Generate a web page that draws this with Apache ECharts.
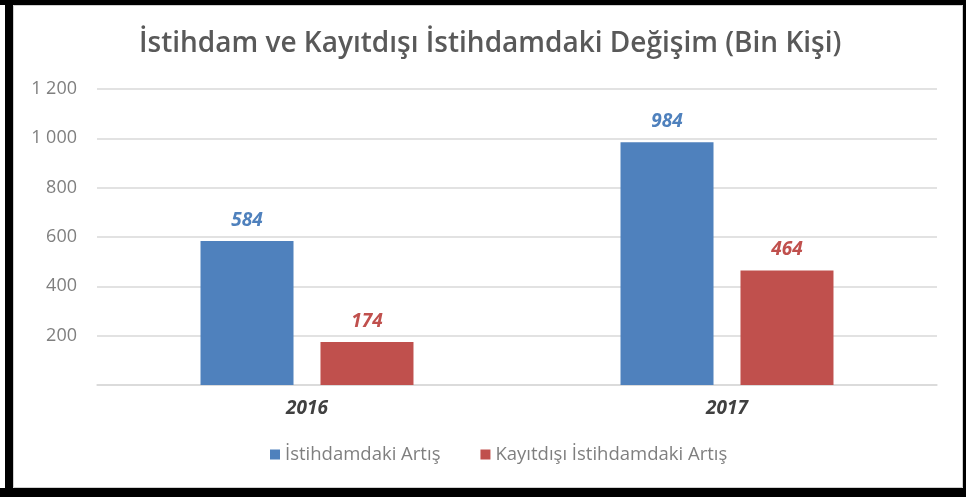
<!DOCTYPE html>
<html><head><meta charset="utf-8">
<script src="https://cdn.jsdelivr.net/npm/echarts@6/dist/echarts.min.js"></script>
<style>html,body{margin:0;padding:0;background:#fff}#c{width:966px;height:497px}</style>
</head><body><div id="c"></div>
<script>
const years = ['2016', '2017'];
const seriesNames = ['İstihdamdaki Artış', 'Kayıtdışı İstihdamdaki Artış'];
const istihdam = [584, 984];
const kayitdisi = [174, 464];
const yTicks = [0, 200, 400, 600, 800, 1000, 1200];

const chart = echarts.init(document.getElementById('c'));
const lbl = (color) => ({show: true, position: 'top', distance: 11, color: color, fontStyle: 'italic', fontWeight: 'bold', fontSize: 19, fontFamily: 'Open Sans'});
chart.setOption({
  animation: false,
  title: {text: 'İstihdam ve Kayıtdışı İstihdamdaki Değişim (Bin Kişi)', left: 134, top: 25,
    textStyle: {color: '#595959', fontSize: 28, fontWeight: 600, fontFamily: 'Open Sans'}},
  legend: {bottom: 28, left: 265, itemWidth: 10, itemHeight: 10, itemGap: 40, icon: 'rect',
    textStyle: {color: '#7f7f7f', fontSize: 18.5, fontFamily: 'Open Sans'}, data: seriesNames},
  grid: {left: 97, right: 29, top: 89, bottom: 112},
  xAxis: {type: 'category', data: years, axisTick: {show: false},
    axisLine: {lineStyle: {color: '#d9d9d9', width: 1.5}},
    axisLabel: {color: '#404040', fontStyle: 'italic', fontWeight: 'bold', fontSize: 19, margin: 14, fontFamily: 'Open Sans'}},
  yAxis: {type: 'value', min: yTicks[0], max: yTicks[yTicks.length-1], interval: 200,
    axisLine: {show: false}, axisTick: {show: false},
    splitLine: {lineStyle: {color: '#d9d9d9', width: 1.5}},
    axisLabel: {color: '#7f7f7f', fontSize: 18, margin: 20, fontFamily: 'Open Sans',
      formatter: v => v === 0 ? '' : String(v).replace(/\B(?=(\d{3})+(?!\d))/g, ' ')}},
  series: [
    {name: seriesNames[0], type: 'bar', data: istihdam, barWidth: 93, barGap: '29%',
      itemStyle: {color: '#4f81bd'}, label: lbl('#4f81bd')},
    {name: seriesNames[1], type: 'bar', data: kayitdisi, barWidth: 93,
      itemStyle: {color: '#c0504d'}, label: lbl('#c0504d')}
  ],
  graphic: [
    {type: 'rect', shape: {x: 5, y: 0, width: 8, height: 497}, style: {fill: '#000'}},
    {type: 'rect', shape: {x: 0, y: 0, width: 966, height: 5}, style: {fill: '#000'}},
    {type: 'rect', shape: {x: 0, y: 488, width: 966, height: 9}, style: {fill: '#000'}},
    {type: 'rect', shape: {x: 963, y: 0, width: 3, height: 497}, style: {fill: '#000'}},
    {type: 'rect', shape: {x: 13.5, y: 5.5, width: 949, height: 482}, style: {fill: 'none', stroke: '#d0d0d0', lineWidth: 1}}
  ]
});
</script></body></html>
